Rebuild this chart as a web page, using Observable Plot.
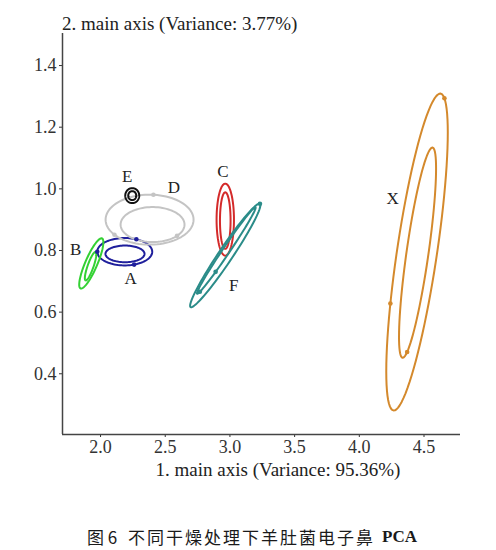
<!DOCTYPE html>
<html>
<head>
<meta charset="utf-8">
<script src="https://cdn.jsdelivr.net/npm/d3@7"></script>
<script src="https://cdn.jsdelivr.net/npm/@observablehq/plot@0.6"></script>
<style>
  html, body { margin: 0; padding: 0; background: #fff; }
  #wrap { position: relative; width: 496px; height: 550px; overflow: hidden; }
  #wrap svg { position: absolute; left: 0; top: 0; }
  .t { position: absolute; font-family: "Liberation Serif", "Times New Roman", serif; color: #222; white-space: nowrap; }
  #ytitle { left: 62px; top: 13px; font-size: 19px; }
  #xtitle { left: 278px; top: 459px; font-size: 19px; transform: translateX(-50%); }
  .cap { position: absolute; top: 525px; font-size: 17px; color: #1a1a1a; white-space: nowrap; font-family: "Noto Sans CJK SC", sans-serif; line-height: 24px; }
  #cap1 { left: 87px; }
  #cap2 { left: 128px; letter-spacing: 2px; }
  #cap3 { left: 382px; font-family: "Liberation Serif", "Times New Roman", serif; font-weight: bold; }
</style>
</head>
<body>
<div id="wrap">
  <div class="t" id="ytitle">2. main axis (Variance: 3.77%)</div>
  <div class="t" id="xtitle">1. main axis (Variance: 95.36%)</div>
  <span class="cap" id="cap1">图 6</span>
  <span class="cap" id="cap2">不同干燥处理下羊肚菌电子鼻</span>
  <span class="cap" id="cap3">PCA</span>
</div>
<script>
// Groups
const groups = ["A", "B", "C", "D", "E", "F", "X"];
const colors = ["#1f1f9c", "#33d133", "#d42a2a", "#c4c4c4", "#111111", "#2b8c89", "#d4892c"];

// Outer ellipses: center and two conjugate semi-axis vectors (data units)
const outerCx = [2.187, 1.9285, 2.964, 2.379, 2.245, 2.964, 4.446];
const outerCy = [0.796, 0.758, 0.900, 0.900, 0.978, 0.784, 0.795];
const outerUx = [0.2125, 0.0831, 0.0672, 0.340, 0.054, 0.268, 0.182];
const outerUy = [0, 0.0811, 0, 0, 0, 0.1677, 0.514];
const outerVx = [0, 0.0425, 0, 0, 0, 0.0449, 0.153];
const outerVy = [0.0444, -0.0078, 0.1168, 0.081, 0.0243, -0.01265, -0.0094];

// Inner ellipses
const innerCx = [2.189, 1.923, 2.964, 2.402, 2.245, 2.972, 4.450];
const innerCy = [0.789, 0.749, 0.897, 0.884, 0.978, 0.800, 0.793];
const innerUx = [0.151, 0.0386, 0.041, 0.247, 0.031, 0.2257, 0.116];
const innerUy = [0, 0.046, 0, 0, 0, 0.1404, 0.341];
const innerVx = [0, 0.0216, 0, 0, 0, 0.0224, 0.084];
const innerVy = [0.027, -0.0032, 0.0918, 0.0568, 0.0146, -0.0063, -0.0052];

// Group labels
const labelX = [2.232, 1.807, 2.945, 2.566, 2.206, 3.030, 4.257];
const labelY = [0.708, 0.802, 1.057, 1.003, 1.040, 0.686, 0.969];

// Small markers on the ellipses: group, ring (0 outer, 1 inner), angle (deg)
const markGroup = ["A", "A", "A", "D", "D", "D", "F", "F", "F", "X", "X", "X"];
const markRing  = [0, 0, 0, 0, 0, 1, 1, 1, 0, 0, 0, 1];
const markAngle = [65, 180, 290, 85, 217, 320, 117, 160, 0, 13, 250, 160];

// Axis ticks
const xTicks = [2.0, 2.5, 3.0, 3.5, 4.0, 4.5];
const yTicks = [0.4, 0.6, 0.8, 1.0, 1.2, 1.4];
const xDomain = [1.706, 4.782];
const yDomain = [0.203, 1.504];

const rings = [
  {cx: outerCx, cy: outerCy, ux: outerUx, uy: outerUy, vx: outerVx, vy: outerVy},
  {cx: innerCx, cy: innerCy, ux: innerUx, uy: innerUy, vx: innerVx, vy: innerVy}
];
function ellPoint(gi, ri, deg) {
  const r = rings[ri], t = deg * Math.PI / 180;
  return {
    x: r.cx[gi] + r.ux[gi] * Math.cos(t) + r.vx[gi] * Math.sin(t),
    y: r.cy[gi] + r.uy[gi] * Math.cos(t) + r.vy[gi] * Math.sin(t)
  };
}
const pathPts = [];
groups.forEach((g, gi) => {
  [0, 1].forEach(ri => {
    for (let d = 0; d <= 360; d += 4) {
      const p = ellPoint(gi, ri, d);
      pathPts.push({...p, id: g + ri, group: g});
    }
  });
});
const markPts = markGroup.map((g, i) => ({...ellPoint(groups.indexOf(g), markRing[i], markAngle[i]), group: g}));
const labels = groups.map((g, i) => ({x: labelX[i], y: labelY[i], text: g}));

const chart = Plot.plot({
  width: 496,
  height: 500,
  marginLeft: 62,
  marginRight: 36,
  marginTop: 33,
  marginBottom: 66,
  style: {fontFamily: "'Liberation Serif', 'Times New Roman', serif", fontSize: "18px", color: "#333", background: "transparent"},
  x: {domain: xDomain, ticks: xTicks, tickFormat: d3.format(".1f"), label: null, tickSize: 3, tickPadding: 3},
  y: {domain: yDomain, ticks: yTicks, tickFormat: d3.format(".1f"), label: null, tickSize: 3, tickPadding: 3},
  color: {domain: groups, range: colors},
  marks: [
    Plot.ruleX([xDomain[0]], {stroke: "#444", strokeWidth: 1.5}),
    Plot.ruleY([yDomain[0]], {stroke: "#444", strokeWidth: 1.5}),
    Plot.line(pathPts, {x: "x", y: "y", z: "id", stroke: "group", strokeWidth: 2, curve: "linear"}),
    Plot.dot(markPts, {x: "x", y: "y", fill: "group", r: 2.3}),
    Plot.text(labels, {x: "x", y: "y", text: "text", fontSize: 17, fill: "#222"})
  ]
});
document.getElementById("wrap").prepend(chart);
</script>
</body>
</html>
